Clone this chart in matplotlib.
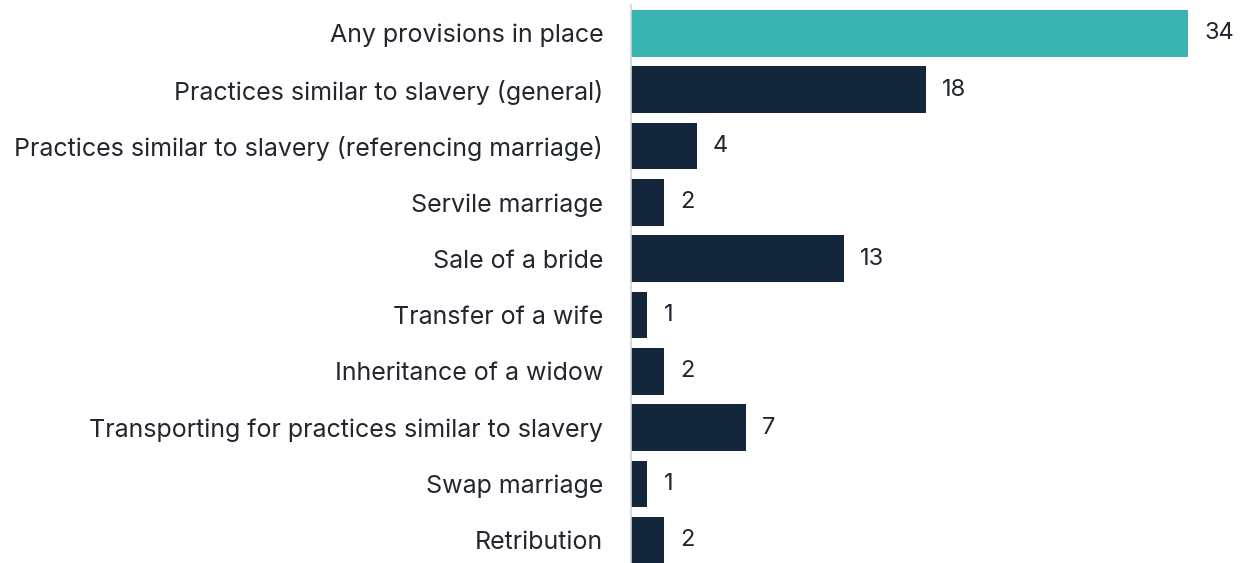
import matplotlib
matplotlib.use("Agg")
import matplotlib.pyplot as plt

categories = [
    "Any provisions in place",
    "Practices similar to slavery (general)",
    "Practices similar to slavery (referencing marriage)",
    "Servile marriage",
    "Sale of a bride",
    "Transfer of a wife",
    "Inheritance of a widow",
    "Transporting for practices similar to slavery",
    "Swap marriage",
    "Retribution",
]
counts = [34, 18, 4, 2, 13, 1, 2, 7, 1, 2]

teal = "#39b4b0"
navy = "#13263c"
colors = [teal] + [navy] * (len(counts) - 1)

plt.rcParams["font.family"] = ["Inter", "DejaVu Sans"]

fig = plt.figure(figsize=(12.44, 5.63), dpi=100)
ax = fig.add_axes([631 / 1244, 0, 613 / 1244, 558 / 563])

ypos = list(range(len(categories)))
ax.barh(ypos, counts, height=0.83, color=colors)
for y, v in zip(ypos, counts):
    ax.text(v + 1.0, y, str(v), va="center", ha="left", fontsize=17, color="#22262e")

ax.set_xlim(0, 37.42)
ax.set_ylim(9.4, -0.5)
ax.set_yticks(ypos)
ax.set_yticklabels(categories, fontsize=18, color="#22262e")
ax.tick_params(axis="y", length=0, pad=20)
ax.set_xticks([])
for s in ["top", "right", "bottom"]:
    ax.spines[s].set_visible(False)
ax.spines["left"].set_color("#d0d4d8")
ax.spines["left"].set_linewidth(1.2)

fig.savefig("out.png", dpi=100)
